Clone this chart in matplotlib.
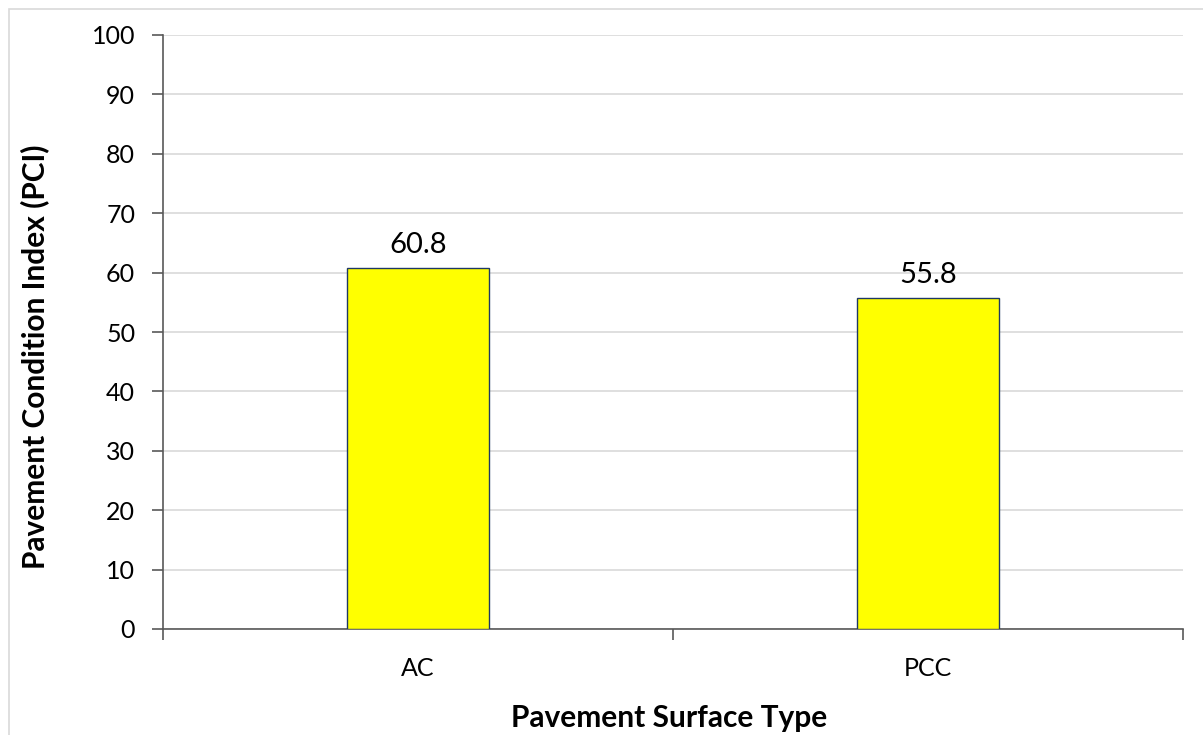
import matplotlib
matplotlib.use("Agg")
import matplotlib.pyplot as plt
from matplotlib.patches import Rectangle

categories = ["AC", "PCC"]
pci_values = [60.8, 55.8]
y_ticks = list(range(0, 101, 10))

plt.rcParams["font.family"] = ["Lato", "DejaVu Sans"]

fig = plt.figure(figsize=(12.03, 7.35), dpi=100)
ax = fig.add_axes([163 / 1203, 1 - 629 / 735, 1020 / 1203, 594 / 735])

x = list(range(len(categories)))
ax.bar(x, pci_values, width=0.28, color="#FFFF00", edgecolor="#1F3864",
       linewidth=1.0, zorder=3)
for xi, v in zip(x, pci_values):
    ax.text(xi, v + 1.6, f"{v:.1f}", ha="center", va="bottom", fontsize=21,
            color="#000000", zorder=4)

ax.set_xlim(-0.5, len(categories) - 0.5)
ax.set_ylim(0, 100)
ax.set_yticks(y_ticks)
ax.set_yticklabels([str(t) for t in y_ticks], fontsize=18)
ax.yaxis.grid(True, color="#D9D9D9", linewidth=1.2, zorder=0)
ax.set_axisbelow(True)

ax.set_xticks(x)
ax.set_xticklabels(categories, fontsize=18)
ax.set_xticks([-0.5, 0.5, 1.5], minor=True)
ax.tick_params(axis="x", which="major", length=0, pad=20)
ax.tick_params(axis="x", which="minor", length=8, width=1.2, color="#595959",
               direction="out")
ax.tick_params(axis="y", length=8, width=1.2, color="#595959",
               direction="out", pad=12)

for side in ["top", "right"]:
    ax.spines[side].set_visible(False)
for side in ["left", "bottom"]:
    ax.spines[side].set_color("#595959")
    ax.spines[side].set_linewidth(1.2)

ax.set_ylabel("Pavement Condition Index (PCI)", fontsize=21.5, fontweight="bold")
ax.yaxis.set_label_coords((35 - 163) / 1020, (629 - 357) / 594)
ax.set_xlabel("Pavement Surface Type", fontsize=21.5, fontweight="bold")
ax.xaxis.set_label_coords((669 - 163) / 1020, (629 - 718) / 594)
ax.xaxis.label.set_va("center")
ax.yaxis.label.set_va("center")

fig.patches.append(Rectangle((9 / 1203, -0.01), 1.02, 1 - 9 / 735 + 0.01,
                             transform=fig.transFigure, fill=False,
                             edgecolor="#D9D9D9", linewidth=1.2))

fig.savefig("out.png", dpi=100)
